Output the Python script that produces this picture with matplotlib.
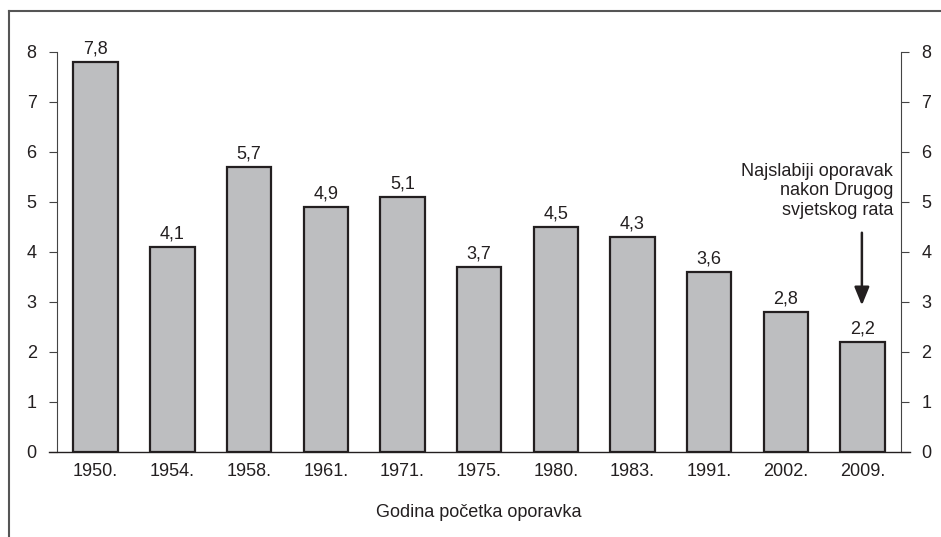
import matplotlib
matplotlib.use("Agg")
import matplotlib.pyplot as plt
from matplotlib.lines import Line2D

plt.rcParams['font.family'] = ['Liberation Sans', 'DejaVu Sans']

years = ["1950.", "1954.", "1958.", "1961.", "1971.", "1975.", "1980.", "1983.", "1991.", "2002.", "2009."]
values = [7.8, 4.1, 5.7, 4.9, 5.1, 3.7, 4.5, 4.3, 3.6, 2.8, 2.2]
labels = ["7,8", "4,1", "5,7", "4,9", "5,1", "3,7", "4,5", "4,3", "3,6", "2,8", "2,2"]
yticks = [0, 1, 2, 3, 4, 5, 6, 7, 8]

W, H = 941, 537
FS = 13
TXT = "#231F20"
fig = plt.figure(figsize=(W/100, H/100), dpi=100)
ax = fig.add_axes([57.3/W, 1-452/H, (901-57.3)/W, (452-51.5)/H])

x = list(range(len(years)))
ax.bar(x, values, width=0.58, color="#BDBEC0", edgecolor=TXT, linewidth=1.6, zorder=3)
for xi, v, lab in zip(x, values, labels):
    ax.annotate(lab, (xi, v), xytext=(0, 3), textcoords="offset points",
                ha="center", va="bottom", fontsize=FS, color=TXT)

ax.set_xlim(-0.5, 10.5)
ax.set_ylim(0, 8)
ax.set_yticks(yticks)
ax.set_xticks(x)
ax.set_xticklabels(years, fontsize=FS, color=TXT)
ax.tick_params(axis='x', length=0, pad=8)
ax.tick_params(axis='y', which='both', direction='out', length=5.8, width=0.8,
               color="#444444", labelsize=FS, labelcolor=TXT, pad=9,
               left=True, right=True, labelleft=True, labelright=True)
ax.spines['top'].set_visible(False)
for s in ['left', 'right']:
    ax.spines[s].set_color("#444444")
    ax.spines[s].set_linewidth(0.8)
ax.spines['bottom'].set_visible(False)
# baseline extends across tick marks
ax.plot([-0.5 - 0.107, 10.5 + 0.117], [0, 0], color=TXT, lw=1.0, clip_on=False, zorder=4)

ax.set_xlabel("Godina početka oporavka", fontsize=FS, color=TXT, labelpad=17)

ax.text(10.4, 5.78, "Najslabiji oporavak\nnakon Drugog\nsvjetskog rata", ha="right", va="top",
        fontsize=FS, color=TXT, linespacing=1.2)
ax.annotate("", xy=(9.99, 2.93), xytext=(9.99, 4.38),
            arrowprops=dict(arrowstyle="-|>,head_length=1.1,head_width=0.45", color=TXT, lw=1.8,
                            shrinkA=0, shrinkB=0))

# outer frame (top and left)
fig.add_artist(Line2D([9/W, 1], [1-11/H, 1-11/H], color="#555555", lw=1.5, transform=fig.transFigure))
fig.add_artist(Line2D([9/W, 9/W], [0, 1-11/H], color="#555555", lw=1.5, transform=fig.transFigure))

fig.savefig("out.png", dpi=100)
